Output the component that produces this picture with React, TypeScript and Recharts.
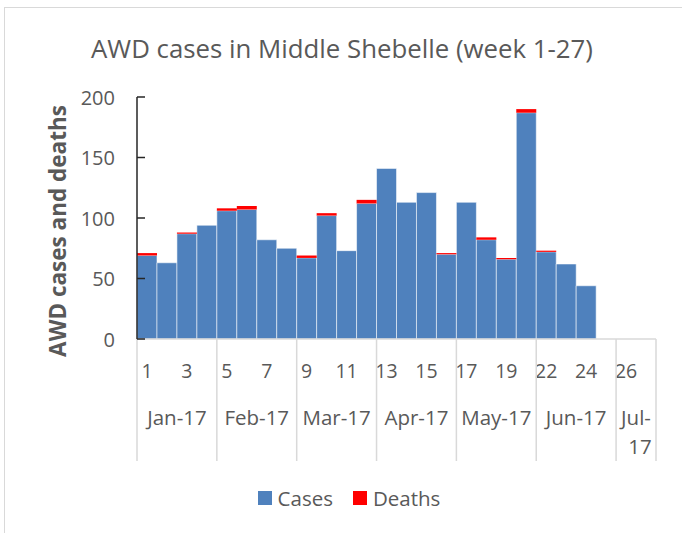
import React from 'react'
import { Bar, BarChart, XAxis, YAxis } from 'recharts'

const weeks = ['1', '2', '3', '4', '5', '6', '7', '8', '9', '10', '11', '12', '13', '14', '15', '16', '17', '18', '19', '20', '22', '23', '24', '25', '26', '27']
const cases = [69, 63, 87, 94, 106, 107, 82, 75, 67, 102, 73, 112, 141, 113, 121, 70, 113, 82, 66, 187, 72, 62, 44, null, null, null]
const deaths = [2, 0, 1, 0, 2, 3, 0, 0, 2, 2, 0, 3, 0, 0, 0, 1, 0, 2, 1, 3, 1, 0, 0, null, null, null]
const months = ['Jan-17', 'Feb-17', 'Mar-17', 'Apr-17', 'May-17', 'Jun-17', 'Jul-17']
const weeksPerMonth = [4, 4, 4, 4, 4, 4, 2]
const yTicks = [0, 50, 100, 150, 200]

const FONT = '"Open Sans", sans-serif'
const GREY = '#595959'
const W = 682
const H = 533
const LEFT = 137
const RIGHT = 26
const TOP = 97
const BOTTOM = 193
const BW = (W - LEFT - RIGHT) / weeks.length

// index of first week for each month
const monthStarts: number[] = []
weeksPerMonth.reduce((acc, n) => {
  monthStarts.push(acc)
  return acc + n
}, 0)

const data = weeks.map((week, i) => ({ week, cases: cases[i], deaths: deaths[i] }))

function WeekTick(props: any) {
  const { x, y, payload } = props
  const i = payload.index
  const m = monthStarts.indexOf(i)
  const isLast = i === weeks.length - 1
  const label = m >= 0 ? months[m] : null
  const groupW = m >= 0 ? weeksPerMonth[m] * BW : 0
  const narrow = groupW < 60
  const cx = x - BW / 2 + groupW / 2
  return (
    <g>
      {i % 2 === 0 && (
        <text x={x} y={y + 31} textAnchor="middle" dominantBaseline="central" fontSize={19.5} fill={GREY} fontFamily={FONT}>
          {payload.value}
        </text>
      )}
      {m >= 0 && <line x1={x - BW / 2} x2={x - BW / 2} y1={y} y2={y + 122} stroke="#d9d9d9" strokeWidth={1.5} />}
      {isLast && <line x1={x + BW / 2} x2={x + BW / 2} y1={y} y2={y + 122} stroke="#d9d9d9" strokeWidth={1.5} />}
      {label && !narrow && (
        <text x={cx} y={y + 78} textAnchor="middle" dominantBaseline="central" fontSize={20.5} fill={GREY} fontFamily={FONT}>
          {label}
        </text>
      )}
      {label && narrow && (
        <text textAnchor="middle" fontSize={20.5} fill={GREY} fontFamily={FONT}>
          <tspan x={cx} y={y + 78} dominantBaseline="central">{label.split('-')[0] + '-'}</tspan>
          <tspan x={cx + 4} y={y + 107} dominantBaseline="central">{label.split('-')[1]}</tspan>
        </text>
      )}
    </g>
  )
}

function ValueTick(props: any) {
  const { x, y, payload } = props
  return (
    <g>
      <line x1={x} x2={x + 8} y1={y} y2={y} stroke="#262626" strokeWidth={1.5} />
      <text x={x - 22} y={y} textAnchor="end" dominantBaseline="central" fontSize={20} fill={GREY} fontFamily={FONT}>
        {payload.value}
      </text>
    </g>
  )
}

const legendItems = [
  { name: 'Cases', color: '#4f81bd' },
  { name: 'Deaths', color: '#ff0000' },
]

export default function App() {
  return (
    <div style={{ position: 'fixed', left: 0, top: 0, width: W, height: H, background: '#fff', overflow: 'hidden' }}>
      <div style={{ position: 'absolute', left: 4, top: 7, width: W + 20, height: H + 20, border: '1px solid #d9d9d9' }} />
      <div style={{ position: 'absolute', left: 0, top: 29, width: W + 2, textAlign: 'center', fontFamily: FONT, fontSize: 25.8, color: GREY, lineHeight: '38px' }}>
        AWD cases in Middle Shebelle (week 1-27)
      </div>
      <div style={{ position: 'absolute', left: 0, top: 0 }}>
        <BarChart width={W} height={H} data={data} margin={{ top: TOP, right: RIGHT, bottom: BOTTOM, left: 0 }} barCategoryGap={0} barGap={0}>
          <XAxis
            dataKey="week"
            interval={0}
            height={1}
            tickLine={false}
            tickSize={0}
            tickMargin={0}
            axisLine={{ stroke: '#d9d9d9', strokeWidth: 1.5 }}
            tick={<WeekTick />}
          />
          <YAxis
            width={LEFT}
            domain={[0, 200]}
            ticks={yTicks}
            tickLine={false}
            tickSize={0}
            tickMargin={0}
            axisLine={{ stroke: '#262626', strokeWidth: 1.5 }}
            tick={<ValueTick />}
            label={{
              content: () => (
                <text x={57} y={231} transform="rotate(-90 57 231)" textAnchor="middle" dominantBaseline="central" fontSize={22.5} fontWeight="bold" fill={GREY} fontFamily={FONT}>
                  AWD cases and deaths
                </text>
              ),
            }}
          />
          <Bar dataKey="cases" name="Cases" stackId="a" fill="#4f81bd" stroke="#ffffff" strokeOpacity={0.55} strokeWidth={1} isAnimationActive={false} />
          <Bar dataKey="deaths" name="Deaths" stackId="a" fill="#ff0000" isAnimationActive={false} />
        </BarChart>
      </div>
      <div style={{ position: 'absolute', left: 0, top: 484, width: W, display: 'flex', justifyContent: 'center', paddingLeft: 36, boxSizing: 'border-box', fontFamily: FONT, fontSize: 20.5, color: GREY, lineHeight: '28px' }}>
        {legendItems.map((it) => (
          <div key={it.name} style={{ display: 'flex', alignItems: 'center', marginRight: 20 }}>
            <span style={{ display: 'inline-block', width: 14, height: 14, background: it.color, marginRight: 6 }} />
            <span>{it.name}</span>
          </div>
        ))}
      </div>
    </div>
  )
}
